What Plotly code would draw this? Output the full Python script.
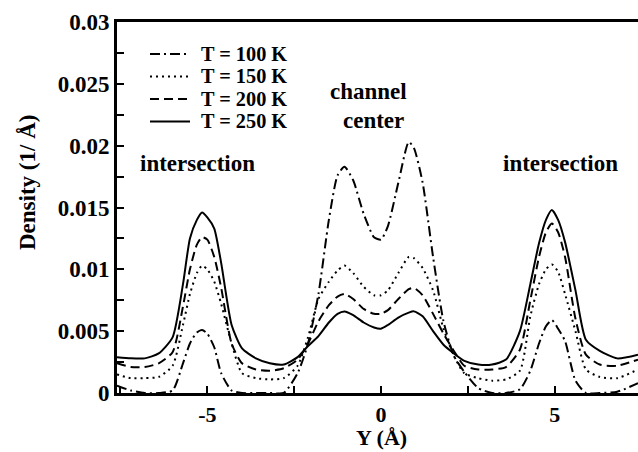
import plotly.graph_objects as go

x_pos = [-7.6, -7.2, -6.8, -6.4, -6.0, -5.7, -5.5, -5.3, -5.15, -5.0, -4.8, -4.6, -4.3, -4.0,
         -3.6, -3.2, -2.8, -2.4, -2.1, -1.8, -1.5, -1.25, -1.05, -0.8, -0.5, -0.2, 0.0, 0.2,
         0.5, 0.8, 0.95, 1.2, 1.5, 1.8, 2.1, 2.4, 2.8, 3.2, 3.6, 4.0, 4.3, 4.55, 4.75, 4.92,
         5.1, 5.3, 5.6, 5.9, 6.3, 6.8, 7.4]

dens_100K = [0.0006, 0.0002, 0.0, 0.0, 0.0002, 0.0024, 0.0040, 0.0049, 0.0051, 0.0048, 0.0037, 0.0016, 0.0002, 0.0,
             0.0, 0.0, 0.0, 0.0016, 0.0040, 0.0080, 0.0140, 0.0176, 0.0183, 0.0172, 0.0145, 0.0126, 0.0124, 0.0135,
             0.0170, 0.0203, 0.0198, 0.0170, 0.0110, 0.0058, 0.0030, 0.0017, 0.0004, 0.0, 0.0, 0.0003, 0.0018, 0.0040, 0.0054, 0.0059,
             0.0052, 0.0042, 0.0010, 0.0, 0.0, 0.0001, 0.0008]

dens_150K = [0.0015, 0.0012, 0.0012, 0.0013, 0.0022, 0.0055, 0.0080, 0.0097, 0.0103, 0.0100, 0.0090, 0.0072, 0.0040, 0.0016,
             0.0012, 0.0011, 0.0012, 0.0022, 0.0045, 0.0076, 0.0090, 0.0099, 0.0103, 0.0097, 0.0086, 0.0079, 0.0079, 0.0083,
             0.0097, 0.0110, 0.0109, 0.0101, 0.0083, 0.0052, 0.0030, 0.0016, 0.0012, 0.0010, 0.0011, 0.0018, 0.0062, 0.0088, 0.0100, 0.0104,
             0.0098, 0.0080, 0.0050, 0.0019, 0.0013, 0.0012, 0.0019]

dens_200K = [0.0024, 0.0021, 0.0021, 0.0024, 0.0033, 0.0070, 0.0100, 0.0120, 0.0126, 0.0124, 0.0110, 0.0085, 0.0040, 0.0024,
             0.0019, 0.0018, 0.0020, 0.0027, 0.0040, 0.0058, 0.0071, 0.0078, 0.0080, 0.0076, 0.0068, 0.0064, 0.0064, 0.0067,
             0.0076, 0.0084, 0.0085, 0.0079, 0.0064, 0.0048, 0.0034, 0.0022, 0.0019, 0.0019, 0.0021, 0.0035, 0.0075, 0.0110, 0.0130, 0.0137,
             0.0130, 0.0110, 0.0060, 0.0031, 0.0023, 0.0022, 0.0027]

dens_250K = [0.0029, 0.0028, 0.0028, 0.0032, 0.0045, 0.0088, 0.0125, 0.0140, 0.0146, 0.0142, 0.0133, 0.0105, 0.0055, 0.0036,
             0.0028, 0.0024, 0.0023, 0.0029, 0.0038, 0.0046, 0.0057, 0.0064, 0.0066, 0.0063, 0.0057, 0.0053, 0.0052, 0.0055,
             0.0061, 0.0065, 0.0066, 0.0062, 0.0050, 0.0039, 0.0032, 0.0026, 0.0023, 0.0023, 0.0027, 0.0050, 0.0088, 0.0121, 0.0140, 0.0148,
             0.0140, 0.0122, 0.0083, 0.0043, 0.0034, 0.0028, 0.0031]

series_names = ["T = 100 K", "T = 150 K", "T = 200 K", "T = 250 K"]
series_vals = [dens_100K, dens_150K, dens_200K, dens_250K]
dash_styles = ["10px,4px,2px,4px", "2px,4px", "9px,5px", "solid"]

x_tickvals = [-7.5, -5, -2.5, 0, 2.5, 5, 7.5]
x_ticktext = ["", "-5", "", "0", "", "5", ""]
y_tickvals = [0, 0.0025, 0.005, 0.0075, 0.01, 0.0125, 0.015, 0.0175, 0.02, 0.0225, 0.025, 0.0275, 0.03]
y_ticktext = ["0", "", "0.005", "", "0.01", "", "0.015", "", "0.02", "", "0.025", "", "0.03"]

FONT = "Liberation Serif"
W, H = 638, 452
ML, MR, MT, MB = 117, 0, 22, 59
PW, PH = W - ML - MR, H - MT - MB


def px2paper(px, py):
    return (px - ML) / PW, (H - MB - py) / PH


fig = go.Figure()
for name, vals, dash in zip(series_names, series_vals, dash_styles):
    fig.add_trace(go.Scatter(x=x_pos, y=vals, mode="lines", name=name, showlegend=False,
                             line=dict(color="black", width=2, dash=dash, shape="spline", smoothing=0.6)))

annotations = []
shapes = []


def add_text(text, px, py, size=23, angle=0, yanchor="middle", xanchor="center"):
    ax, ay = px2paper(px, py)
    annotations.append(dict(text=text, x=ax, y=ay, xref="paper", yref="paper", showarrow=False,
                            xanchor=xanchor, yanchor=yanchor, textangle=angle,
                            font=dict(family=FONT, size=size, color="black", weight="bold")))


# legend (manual, to match compact row spacing)
legend_rows_y = [54, 76.5, 99, 121.5]
for name, dash, ry in zip(series_names, dash_styles, legend_rows_y):
    x0, y0 = px2paper(150, ry)
    x1, _ = px2paper(190, ry)
    shapes.append(dict(type="line", xref="paper", yref="paper", x0=x0, x1=x1, y0=y0, y1=y0,
                       line=dict(color="black", width=2, dash=dash)))
    add_text(name, 199, ry, size=20.3, xanchor="left")

add_text("channel", 368, 92)
add_text("center", 373, 120)
add_text("intersection", 197, 163)
add_text("intersection", 560, 163)
add_text("Y (Å)", 381, 452, size=22, yanchor="bottom")
add_text("Density (1/ Å)", 27, 183, angle=-90)

fig.update_layout(
    width=W, height=H,
    margin=dict(l=ML, r=MR, t=MT, b=MB),
    paper_bgcolor="white", plot_bgcolor="white",
    font=dict(family=FONT, size=20, color="black"),
    showlegend=False,
    xaxis=dict(range=[-7.6, 7.4], showgrid=False, zeroline=False, showline=True, linewidth=3,
               linecolor="black", mirror=True, ticks="inside", ticklen=7, tickwidth=2,
               tickcolor="black", tickvals=x_tickvals, ticktext=x_ticktext,
               tickfont=dict(family=FONT, size=22, weight="bold")),
    yaxis=dict(range=[0, 0.03], showgrid=False, zeroline=False, showline=True, linewidth=3,
               linecolor="black", mirror=False, ticks="inside", ticklen=7, tickwidth=2,
               tickcolor="black", tickvals=y_tickvals, ticktext=y_ticktext,
               tickfont=dict(family=FONT, size=23, weight="bold")),
    annotations=annotations,
    shapes=shapes,
)

fig.write_html("out.html")
